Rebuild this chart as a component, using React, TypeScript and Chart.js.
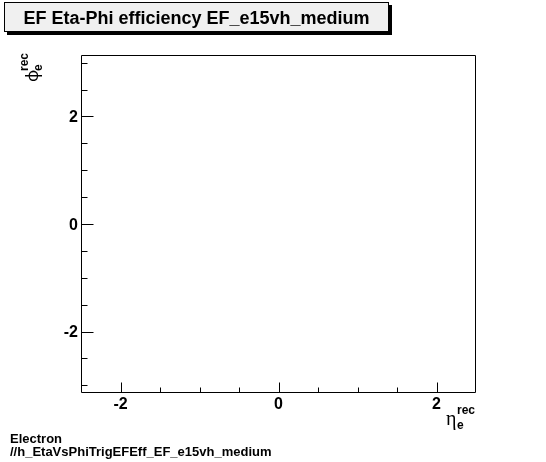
import { useEffect, useRef } from 'react';
import { Chart, registerables } from 'chart.js';

Chart.register(...registerables);

// ---- data (the histogram is empty in the reference) ----
const ETA_VALUES: number[] = [];
const PHI_VALUES: number[] = [];

const X_MIN = -2.5;
const X_MAX = 2.5;
const Y_MIN = -Math.PI;
const Y_MAX = Math.PI;

const X_MAJOR = [-2, 0, 2];
const X_MINOR = [-1.5, -1, -0.5, 0.5, 1, 1.5];
const Y_MAJOR = [-2, 0, 2];
const Y_MINOR = [-3, -2.5, -1.5, -1, -0.5, 0.5, 1, 1.5, 2.5, 3];

const TITLE = 'EF Eta-Phi efficiency EF_e15vh_medium';
const FOOTER = ['Electron', '//h_EtaVsPhiTrigEFEff_EF_e15vh_medium'];
const X_TITLE = { main: 'η', sub: 'e', sup: 'rec' };
const Y_TITLE = { main: 'φ', sub: 'e', sup: 'rec' };

const FAMILY = '"Liberation Sans", Arial, Helvetica, sans-serif';

const rootPlugin = {
  id: 'rootDecor',
  afterDraw(chart: any) {
    const ctx: CanvasRenderingContext2D = chart.ctx;
    const { left, right, top, bottom } = chart.chartArea;
    const xs = chart.scales.x;
    const ys = chart.scales.y;
    ctx.save();
    ctx.strokeStyle = '#000';
    ctx.fillStyle = '#000';
    ctx.lineWidth = 1;

    // frame
    const L = Math.round(left) + 0.5;
    const R = Math.round(right) - 0.5;
    const T = Math.round(top) + 0.5;
    const B = Math.round(bottom) - 0.5;
    ctx.beginPath();
    ctx.rect(L, T, R - L, B - T);
    ctx.stroke();

    // inward ticks
    ctx.beginPath();
    X_MAJOR.forEach((v) => {
      const p = Math.round(xs.getPixelForValue(v)) + 0.5;
      ctx.moveTo(p, B);
      ctx.lineTo(p, B - 10);
    });
    X_MINOR.forEach((v) => {
      const p = Math.round(xs.getPixelForValue(v)) + 0.5;
      ctx.moveTo(p, B);
      ctx.lineTo(p, B - 5);
    });
    Y_MAJOR.forEach((v) => {
      const p = Math.round(ys.getPixelForValue(v)) + 0.5;
      ctx.moveTo(L, p);
      ctx.lineTo(L + 12, p);
    });
    Y_MINOR.forEach((v) => {
      const p = Math.round(ys.getPixelForValue(v)) + 0.5;
      ctx.moveTo(L, p);
      ctx.lineTo(L + 6, p);
    });
    ctx.stroke();

    // title box with shadow
    ctx.fillStyle = '#000';
    ctx.fillRect(7, 5, 385, 30);
    ctx.fillStyle = '#f0f0f0';
    ctx.fillRect(4, 2, 385, 30);
    ctx.strokeRect(4.5, 2.5, 384, 29);
    ctx.fillStyle = '#000';
    ctx.font = `bold 18px ${FAMILY}`;
    ctx.textAlign = 'center';
    ctx.textBaseline = 'alphabetic';
    ctx.fillText(TITLE, 196.5, 24);

    // footer
    ctx.textAlign = 'left';
    ctx.font = `bold 13px ${FAMILY}`;
    ctx.fillText(FOOTER[0], 10, 443);
    ctx.fillText(FOOTER[1], 10, 456);

    // x-axis title
    ctx.font = `20px "Liberation Serif", serif`;
    ctx.fillText(X_TITLE.main, 446, 425);
    ctx.font = `bold 12px ${FAMILY}`;
    ctx.fillText(X_TITLE.sup, 457, 414);
    ctx.fillText(X_TITLE.sub, 457, 429);

    // y-axis title (rotated)
    ctx.save();
    ctx.translate(38, 82);
    ctx.rotate(-Math.PI / 2);
    ctx.font = `17px "Noto Sans", sans-serif`;
    ctx.fillText(Y_TITLE.main, 0, 0);
    ctx.font = `bold 12px ${FAMILY}`;
    ctx.fillText(Y_TITLE.sub, 11, 4);
    ctx.fillText(Y_TITLE.sup, 11, -10);
    ctx.restore();

    ctx.restore();
  },
};

export default function App() {
  const canvasRef = useRef<HTMLCanvasElement | null>(null);

  useEffect(() => {
    document.body.style.margin = '0';
    const canvas = canvasRef.current;
    if (!canvas) return;
    const tickFont = { family: FAMILY, size: 16, weight: 'bold' as const };
    const chart = new Chart(canvas, {
      type: 'scatter',
      data: {
        datasets: [
          {
            label: 'efficiency',
            data: ETA_VALUES.map((x, i) => ({ x, y: PHI_VALUES[i] })),
            pointRadius: 0,
          },
        ],
      },
      options: {
        animation: false,
        responsive: false,
        devicePixelRatio: 1,
        layout: { padding: { top: 55, right: 70, left: 0, bottom: 0 } },
        plugins: {
          legend: { display: false },
          tooltip: { enabled: false },
          title: { display: false },
        },
        scales: {
          x: {
            type: 'linear',
            min: X_MIN,
            max: X_MAX,
            afterBuildTicks: (s: any) => {
              s.ticks = X_MAJOR.map((v) => ({ value: v }));
            },
            afterFit: (s: any) => {
              s.height = 69;
            },
            grid: { display: false, drawTicks: false },
            border: { display: false },
            ticks: {
              font: tickFont,
              color: '#000',
              padding: 2,
              maxRotation: 0,
              autoSkip: false,
              callback: (v: any) => String(v),
            },
          },
          y: {
            type: 'linear',
            min: Y_MIN,
            max: Y_MAX,
            afterBuildTicks: (s: any) => {
              s.ticks = Y_MAJOR.map((v) => ({ value: v }));
            },
            afterFit: (s: any) => {
              s.width = 81;
            },
            grid: { display: false, drawTicks: false },
            border: { display: false },
            ticks: {
              font: tickFont,
              color: '#000',
              padding: 3,
              labelOffset: 1.5,
              autoSkip: false,
              callback: (v: any) => String(v),
            },
          },
        },
      },
      plugins: [rootPlugin],
    });
    return () => chart.destroy();
  }, []);

  return (
    <div style={{ width: 546, height: 462, background: '#fff' }}>
      <canvas ref={canvasRef} width={546} height={462} style={{ display: 'block' }} />
    </div>
  );
}
